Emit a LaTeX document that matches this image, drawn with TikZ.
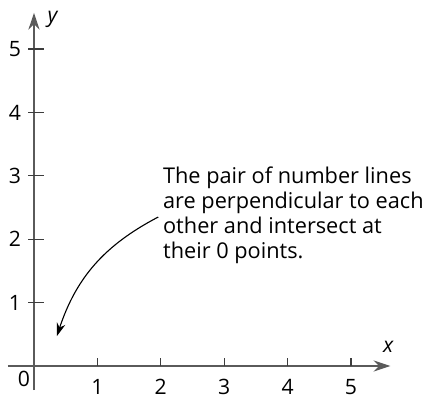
\documentclass[tikz,border=0pt]{standalone}
\usepackage{fontspec}
\setmainfont{Open Sans}
\usetikzlibrary{arrows.meta}
\definecolor{axisGray}{RGB}{90,90,90}
\definecolor{tickGray}{RGB}{60,60,60}

\begin{document}
\begin{tikzpicture}[font=\fontsize{9.5}{11}\selectfont]
        \useasboundingbox (-0.536,-0.505) rectangle (6.136,5.773);
        % axes
        \draw[axisGray, line width=0.7pt, -{Stealth[length=7.5pt,width=5pt]}] (-0.41,0) -- (5.62,0);
        \draw[axisGray, line width=0.7pt, -{Stealth[length=7.5pt,width=5pt]}] (0,-0.38) -- (0,5.57);
        \foreach \k in {1,...,5} {
            \draw[tickGray, line width=0.6pt] (\k,0) -- (\k,0.12);
            \draw[tickGray, line width=0.6pt] (-0.09,\k) -- (0.16,\k);
            \node[anchor=north, inner sep=0pt] (xl\k) at (\k,-0.2) {\k};
            \node[anchor=east, inner sep=0pt] (yl\k) at (-0.2,\k) {\k};
        }
        \node (zero) at (-0.16,-0.21) {0};
        \node (xname) at (5.59,0.30) {\textit{x}};
        \node (yname) at (0.30,5.47) {\textit{y}};
        % note with pointer
        \node[anchor=base west, align=left, inner sep=0pt, font=\fontsize{9.75}{11.2}\selectfont] (note) at (2.03,1.69)
            {The pair of number lines\\are perpendicular to each\\other and intersect at\\their 0 points.};
        \coordinate (from) at (1.96,2.35);
        \coordinate (to) at (0.36,0.47);
        \draw[black, line width=0.5pt, -{Stealth[length=6pt,width=4pt]}] (from) to[bend right=22] (to);
\end{tikzpicture}
\end{document}
